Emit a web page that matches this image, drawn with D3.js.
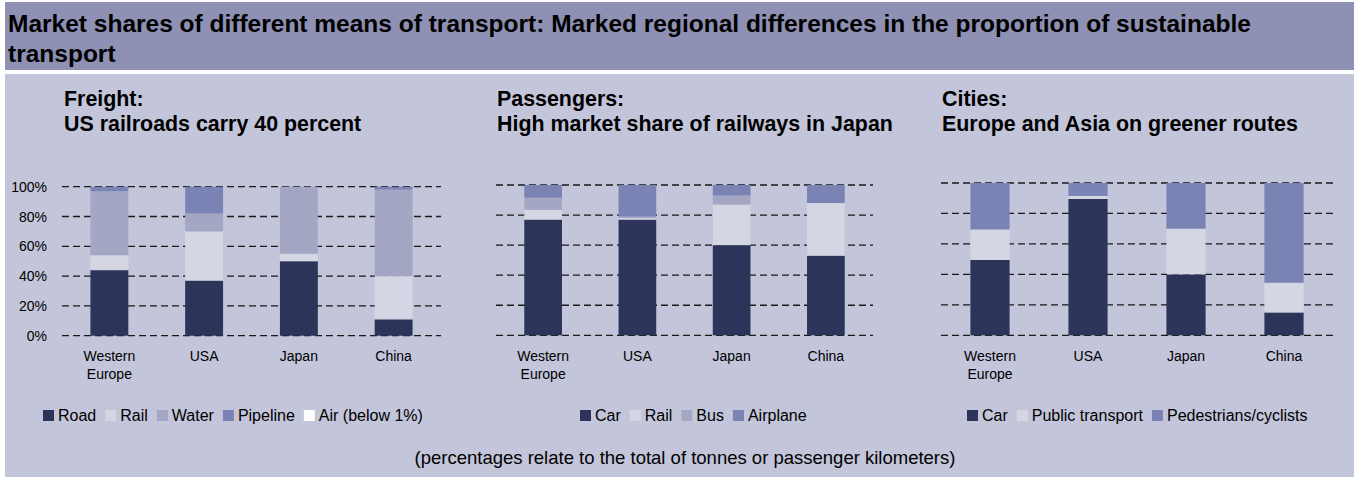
<!DOCTYPE html>
<html>
<head>
<meta charset="utf-8">
<script src="https://cdn.jsdelivr.net/npm/d3@7"></script>
<style>
  body { margin: 0; background: #fff; }
  svg { display: block; font-family: "Liberation Sans", Arial, sans-serif; }
</style>
</head>
<body>
<div id="chart"></div>
<script>
// datos
const countries = ["Western Europe", "USA", "Japan", "China"];
const yTicks = [0, 20, 40, 60, 80, 100];

const freightKeys = ["Road", "Rail", "Water", "Pipeline", "Air (below 1%)"];
const freightRoad = [44, 37, 50, 11];
const freightRail = [10, 33, 5, 29];
const freightWater = [43, 12, 45, 58];
const freightPipeline = [3, 18, 0, 2];
const freightAir = [0, 0, 0, 0];

const passKeys = ["Car", "Rail", "Bus", "Airplane"];
const passCar = [77, 77, 60, 53];
const passRail = [6.5, 1, 27, 35];
const passBus = [8, 1, 6, 0];
const passAirplane = [8.5, 21, 7, 12];

const cityKeys = ["Car", "Public transport", "Pedestrians/cyclists"];
const cityCar = [49.5, 89.5, 40, 15];
const cityPublic = [20, 2, 30, 19.5];
const cityPed = [30.5, 8.5, 30, 65.5];

const cDark = "#2c3559", cLight = "#d4d6e4", cMid = "#a3a7c3", cBlue = "#7b83b5", cWhite = "#ffffff";

const W = 1355, H = 478;
const svg = d3.select("#chart").append("svg").attr("width", W).attr("height", H);

// cabecera y fondo
svg.append("rect").attr("x", 5).attr("y", 2).attr("width", 1349).attr("height", 68).attr("fill", "#8e90b4");
svg.append("rect").attr("x", 5).attr("y", 74).attr("width", 1349).attr("height", 403).attr("fill", "#c3c5da");

const title = svg.append("text").attr("font-weight", "bold").attr("font-size", 24.5).attr("fill", "#000");
title.append("tspan").attr("x", 8).attr("y", 32).text("Market shares of different means of transport: Marked regional differences in the proportion of sustainable");
title.append("tspan").attr("x", 8).attr("y", 62).text("transport");

function panel(opt) {
  const g = svg.append("g");

  // subtítulo
  const st = g.append("text").attr("font-weight", "bold").attr("font-size", 21.4).attr("fill", "#000");
  st.append("tspan").attr("x", opt.tx).attr("y", 106).text(opt.sub1);
  st.append("tspan").attr("x", opt.tx).attr("y", 131).text(opt.sub2);

  const x = d3.scaleBand().domain(countries).range([opt.x0, opt.x1]).paddingInner(0.6).paddingOuter(0.3);
  const y = d3.scaleLinear().domain([0, 100]).range([opt.yb, opt.yt]);

  // rejilla
  g.selectAll(".grid").data(yTicks).enter().append("line")
    .attr("x1", opt.x0).attr("x2", opt.x1)
    .attr("y1", d => y(d)).attr("y2", d => y(d))
    .attr("stroke", "#1a1a1a").attr("stroke-width", 1.3)
    .attr("stroke-dasharray", "7,4");

  if (opt.yLabels) {
    g.selectAll(".yl").data(yTicks).enter().append("text")
      .attr("x", 47).attr("y", d => y(d) + 5)
      .attr("text-anchor", "end").attr("font-size", 14).attr("fill", "#000")
      .text(d => d + "%");
  }

  const table = countries.map((c, i) => {
    const row = { country: c };
    opt.keys.forEach((k, j) => row[k] = opt.values[j][i]);
    return row;
  });
  const stack = d3.stack().keys(opt.keys)(table);

  g.selectAll(".layer").data(stack).enter().append("g")
    .attr("fill", (d, i) => opt.colors[i])
    .selectAll("rect").data(d => d).enter().append("rect")
    .attr("x", d => x(d.data.country))
    .attr("width", x.bandwidth())
    .attr("y", d => y(d[1]))
    .attr("height", d => y(d[0]) - y(d[1]));

  // etiquetas de países
  countries.forEach(c => {
    const parts = c.split(" ");
    const t = g.append("text").attr("text-anchor", "middle").attr("font-size", 14).attr("fill", "#000");
    parts.forEach((p, k) => t.append("tspan").attr("x", x(c) + x.bandwidth() / 2).attr("y", 361 + k * 18).text(p));
  });

  // leyenda
  let lx = opt.lx;
  opt.keys.forEach((k, i) => {
    g.append("rect").attr("x", lx).attr("y", 410).attr("width", 11).attr("height", 11).attr("fill", opt.colors[i]);
    const t = g.append("text").attr("x", lx + 15).attr("y", 421).attr("font-size", 16).attr("fill", "#000").text(k);
    lx += 15 + t.node().getComputedTextLength() + 9;
  });
}

panel({
  sub1: "Freight:", sub2: "US railroads carry 40 percent", tx: 64,
  x0: 62, x1: 441, yt: 186.7, yb: 335.7, yLabels: true,
  keys: freightKeys, values: [freightRoad, freightRail, freightWater, freightPipeline, freightAir],
  colors: [cDark, cLight, cMid, cBlue, cWhite], lx: 43
});
panel({
  sub1: "Passengers:", sub2: "High market share of railways in Japan", tx: 497,
  x0: 496, x1: 873, yt: 185, yb: 335.3, yLabels: false,
  keys: passKeys, values: [passCar, passRail, passBus, passAirplane],
  colors: [cDark, cLight, cMid, cBlue], lx: 580
});
panel({
  sub1: "Cities:", sub2: "Europe and Asia on greener routes", tx: 942,
  x0: 941, x1: 1333, yt: 183, yb: 335.3, yLabels: false,
  keys: cityKeys, values: [cityCar, cityPublic, cityPed],
  colors: [cDark, cLight, cBlue], lx: 967
});

svg.append("text").attr("x", 685).attr("y", 464).attr("text-anchor", "middle")
  .attr("font-size", 18.5).attr("fill", "#000")
  .text("(percentages relate to the total of tonnes or passenger kilometers)");
</script>
</body>
</html>
